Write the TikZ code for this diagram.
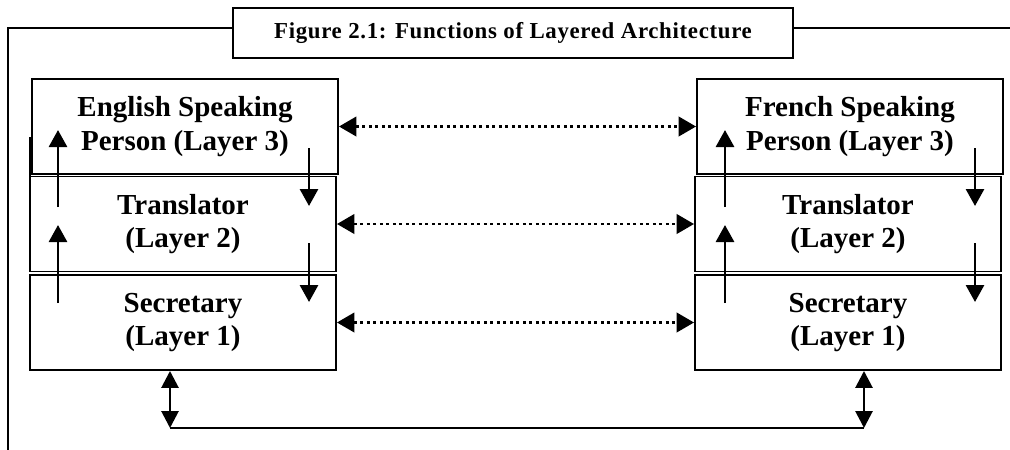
\documentclass[tikz,border=0pt]{standalone}
\usepackage{fontspec}
\setmainfont{Liberation Serif}
\newfontfamily\captionfont[LetterSpace=3]{Liberation Serif}
\usetikzlibrary{arrows.meta,calc}

\tikzset{
  layerbox/.style={draw, line width=1.1pt, fill=white, minimum width=61.2mm,
    minimum height=19mm, inner sep=0pt, align=center,
    font=\fontsize{16.5}{19}\selectfont\bfseries},
  flow/.style={line width=1.6pt, -{Triangle[length=3.4mm,width=3.6mm]}},
  peer/.style={line width=1.6pt, dash pattern=on 1.6pt off 2.1pt,
    {Triangle[length=3.5mm,width=3.9mm]}-{Triangle[length=3.5mm,width=3.9mm]}},
  link/.style={line width=1.6pt,
    {Triangle[length=3.4mm,width=3.4mm]}-{Triangle[length=3.4mm,width=3.4mm]}},
}

\begin{document}
\begin{tikzpicture}[x=0.2mm, y=-0.2mm]
  \useasboundingbox (0,0) rectangle (1010,449);

  % title and the frame around the figure
  \node[draw, line width=1.1pt, minimum width=112mm, minimum height=10mm,
    inner sep=0pt, font=\captionfont\fontsize{13}{15}\selectfont\bfseries] (title) at (513,33)
    {Figure 2.1: Functions of Layered Architecture};
  \draw[line width=1.1pt] (title.west |- 0,28) -- (8,28) -- (8,455);
  \draw[line width=1.1pt] (title.east |- 0,28) -- (1015,28);

  % left stack
  \draw[line width=1.1pt] (30,137) -- (30,180);
  \node[layerbox] (ltr)  at (183,224)   {Translator\\(Layer 2)};
  \node[layerbox] (lsec) at (183,322.5) {Secretary\\(Layer 1)};
  \node[layerbox] (eng)  at (185,126.5) {English Speaking\\Person (Layer 3)};

  % right stack
  \node[layerbox] (rtr)  at (848,224)   {Translator\\(Layer 2)};
  \node[layerbox] (rsec) at (848,322.5) {Secretary\\(Layer 1)};
  \node[layerbox] (fre)  at (850,126.5) {French Speaking\\Person (Layer 3)};

  % peer to peer talk on each layer
  \draw[peer] (eng.east) -- (fre.west);
  \draw[peer] (ltr.east) -- (rtr.west);
  \draw[peer] (lsec.east) -- (rsec.west);

  % up and down through the stacks
  \foreach \ux/\dx in {58/309, 725/975} {
    \draw[flow] (\ux,207) -- (\ux,130);
    \draw[flow] (\ux,303) -- (\ux,225);
    \draw[flow] (\dx,148) -- (\dx,206);
    \draw[flow] (\dx,243) -- (\dx,302);
  }

  % physical link between the secretaries
  \coordinate (lfoot) at (170,428);
  \coordinate (rfoot) at (864,428);
  \draw[link] (lsec.south -| lfoot) -- (lfoot);
  \draw[link] (rsec.south -| rfoot) -- (rfoot);
  \draw[line width=1.1pt] (lfoot) -- (rfoot);
\end{tikzpicture}
\end{document}
